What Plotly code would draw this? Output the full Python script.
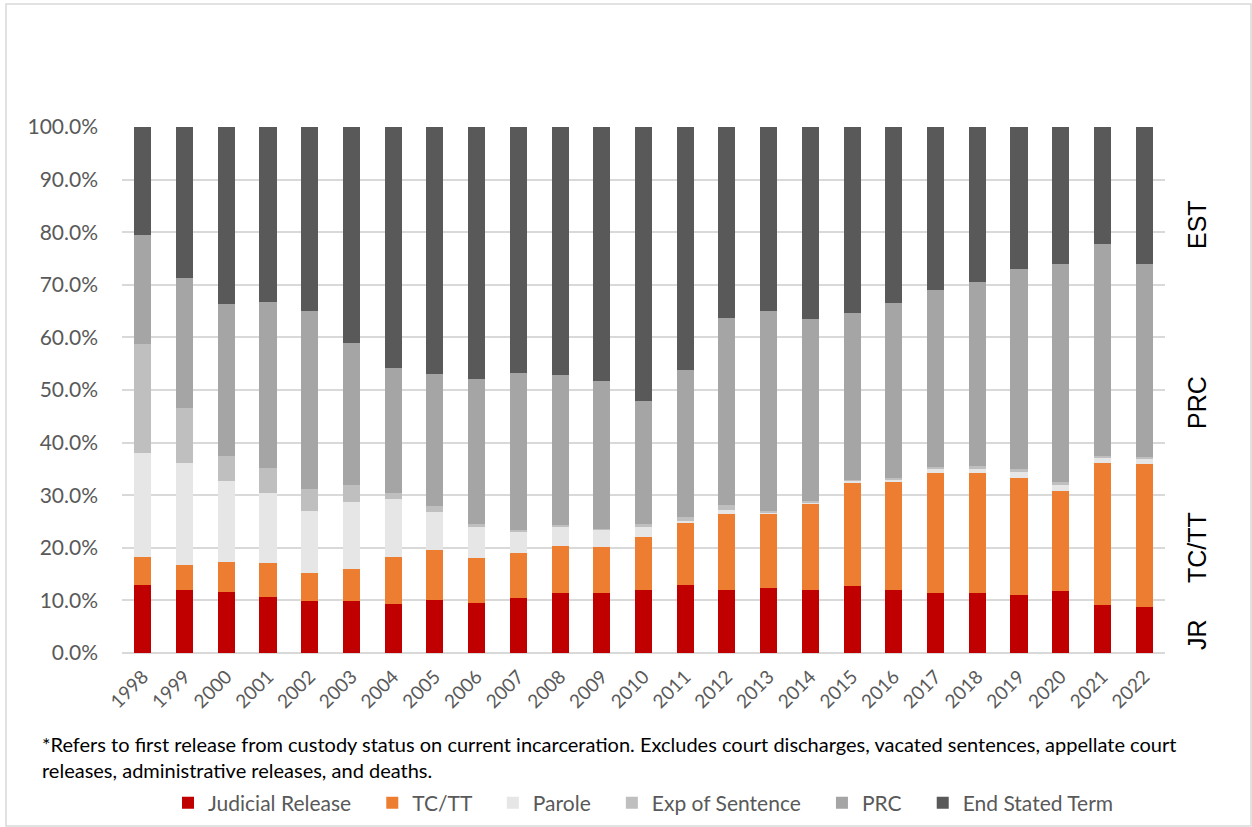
import plotly.graph_objects as go

# Release type shares by year (percent of first releases)
years = [str(y) for y in range(1998, 2023)]

judicial_release = [13.0, 12.0, 11.6, 10.7, 9.9, 9.9, 9.3, 10.0, 9.6, 10.5, 11.5, 11.5, 12.0,
                    13.0, 12.0, 12.4, 12.0, 12.7, 12.0, 11.5, 11.5, 11.1, 11.8, 9.1, 8.8]
tc_tt = [5.2, 4.8, 5.7, 6.4, 5.4, 6.1, 9.0, 9.6, 8.5, 8.5, 8.8, 8.7, 10.1,
         11.8, 14.5, 14.2, 16.4, 19.7, 20.5, 22.8, 22.8, 22.1, 19.0, 27.1, 27.2]
parole = [19.8, 19.4, 15.4, 13.3, 11.7, 12.7, 11.0, 7.2, 5.9, 4.0, 3.7, 3.2, 1.9,
          0.3, 0.7, 0.2, 0.3, 0.3, 0.4, 0.6, 0.7, 1.3, 1.1, 0.8, 0.8]
exp_of_sentence = [20.8, 10.4, 4.7, 4.8, 4.2, 3.2, 1.2, 1.2, 0.5, 0.4, 0.3, 0.2, 0.5,
                   0.8, 0.9, 0.2, 0.2, 0.2, 0.4, 0.4, 0.5, 0.5, 0.6, 0.4, 0.4]
prc = [20.7, 24.7, 29.0, 31.5, 33.8, 27.1, 23.6, 25.1, 27.6, 29.9, 28.6, 28.1, 23.5,
       27.9, 35.6, 38.0, 34.6, 31.8, 33.2, 33.8, 35.1, 38.0, 41.5, 40.3, 36.8]
end_stated_term = [20.5, 28.7, 33.6, 33.3, 35.0, 41.0, 45.9, 46.9, 47.9, 46.7, 47.1, 48.3, 52.0,
                   46.2, 36.3, 35.0, 36.5, 35.3, 33.5, 30.9, 29.4, 27.0, 26.0, 22.3, 26.0]

series = [
    ("Judicial Release", judicial_release, "#C00000"),
    ("TC/TT", tc_tt, "#ED7D31"),
    ("Parole", parole, "#E6E6E6"),
    ("Exp of Sentence", exp_of_sentence, "#BFBFBF"),
    ("PRC", prc, "#A5A5A5"),
    ("End Stated Term", end_stated_term, "#595959"),
]

y_ticks = [0, 10, 20, 30, 40, 50, 60, 70, 80, 90, 100]
y_tick_text = ["0.0%", "10.0%", "20.0%", "30.0%", "40.0%", "50.0%",
               "60.0%", "70.0%", "80.0%", "90.0%", "100.0%"]

side_labels = ["EST", "PRC", "TC/TT", "JR"]
side_label_px_y = [225, 403, 548, 635]

footnote = ("*Refers to first release from custody status on current incarceration. "
            "Excludes court discharges, vacated sentences, appellate court<br>"
            "releases, administrative releases, and deaths.")

W, H = 1252, 827
ML, MR, MT, MB = 122, 87, 127, 174
PW, PH = W - ML - MR, H - MT - MB


def px_x(p):
    return (p - ML) / PW


def px_y(p):
    return (MT + PH - p) / PH


NBSP = "\u00a0"

fig = go.Figure()
for i, (name, vals, color) in enumerate(series):
    # extra trailing space widens the gap between legend entries
    label = name if i == len(series) - 1 else name + NBSP * 3
    fig.add_trace(go.Bar(
        x=years, y=vals, name=label,
        marker=dict(color=color, line=dict(width=0)),
    ))

annotations = []
for txt, py in zip(side_labels, side_label_px_y):
    annotations.append(dict(
        text=txt, xref="paper", yref="paper", x=px_x(1197), y=px_y(py),
        textangle=-90, showarrow=False, xanchor="center", yanchor="middle",
        font=dict(family="Liberation Sans Narrow, Arial Narrow, sans-serif",
                  size=25, color="#000000"),
    ))
annotations.append(dict(
    text=footnote, xref="paper", yref="paper",
    x=px_x(40), y=px_y(730),
    xanchor="left", yanchor="top", align="left", showarrow=False,
    font=dict(family="Lato, sans-serif", size=20, color="#000000"),
))

# Outer frame around the whole chart
shapes = [dict(
    type="rect", xref="paper", yref="paper",
    x0=px_x(6), x1=px_x(1251), y0=px_y(826), y1=px_y(4),
    line=dict(color="#D9D9D9", width=1.5), fillcolor="rgba(0,0,0,0)", layer="below",
)]

fig.update_layout(
    width=W, height=H,
    margin=dict(l=ML, r=MR, t=MT, b=MB, autoexpand=False),
    barmode="stack", bargap=0.59,
    plot_bgcolor="white", paper_bgcolor="white",
    font=dict(family="Lato, sans-serif", color="#595959"),
    xaxis=dict(
        type="category", tickangle=-45, showgrid=False, showline=False,
        automargin=False,
        ticks="", ticklabelstandoff=8, tickfont=dict(size=19, color="#595959"),
    ),
    yaxis=dict(
        range=[0, 100], tickvals=y_ticks, ticktext=y_tick_text,
        showgrid=True, gridcolor="#D9D9D9", gridwidth=1.5,
        zeroline=True, zerolinecolor="#D9D9D9", zerolinewidth=1.5,
        showline=False, ticks="", ticklabelstandoff=23, automargin=False,
        tickfont=dict(size=21, color="#595959"),
    ),
    legend=dict(
        orientation="h", x=0.5, xanchor="center", y=px_y(803), yanchor="middle",
        font=dict(size=21, color="#595959"), traceorder="normal",
        itemwidth=30,
    ),
    annotations=annotations,
    shapes=shapes,
)

fig.write_html("out.html")
